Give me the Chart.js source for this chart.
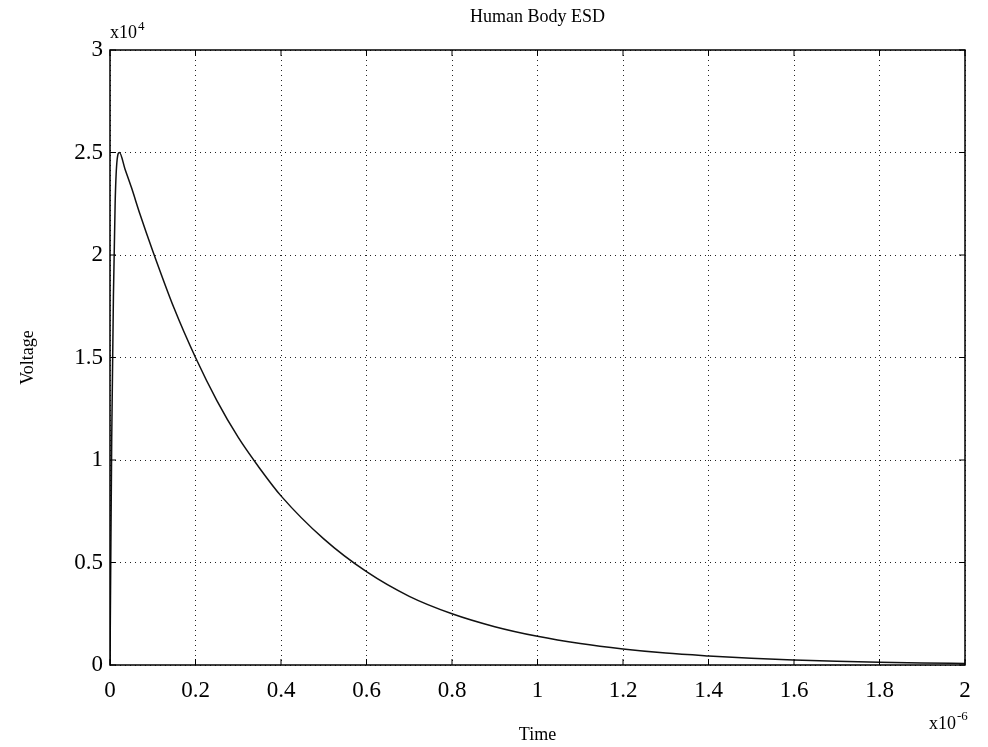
<!DOCTYPE html>
<html>
<head>
<meta charset="utf-8">
<title>Human Body ESD</title>
<script src="https://cdn.jsdelivr.net/npm/chart.js@4.4.1/dist/chart.umd.min.js"></script>
<style>
    html, body { margin: 0; padding: 0; background: #fff; }
    #esdChart { display: block; }
</style>
</head>
<body>
<canvas id="esdChart" width="988" height="747"></canvas>
<script>
// time in units of 1e-6 s, voltage in volts
const timeUs = [0, 0.004, 0.008, 0.012, 0.016, 0.022, 0.035, 0.05, 0.07, 0.1,
    0.15, 0.2, 0.25, 0.3, 0.35, 0.4, 0.5, 0.6, 0.7, 0.8,
    0.9, 1.0, 1.1, 1.2, 1.3, 1.4, 1.5, 1.6, 1.7, 1.8, 1.9, 2.0];
const voltage = [0, 11000, 18000, 22500, 24500, 25000, 24200, 23300, 22000, 20200,
    17400, 15000, 12900, 11100, 9600, 8250, 6150, 4550, 3350, 2500,
    1870, 1400, 1045, 780, 580, 440, 325, 245, 182, 136, 101, 76];

const xTicks = [0, 0.2, 0.4, 0.6, 0.8, 1, 1.2, 1.4, 1.6, 1.8, 2];
const yTicks = [0, 5000, 10000, 15000, 20000, 25000, 30000];

const serif = '"Liberation Serif", "DejaVu Serif", serif';

// MATLAB-like box, inward ticks and the loose text bits (title, exponents)
const matlabFrame = {
    id: 'matlabFrame',
    afterDraw(chart) {
        const { ctx, chartArea: a, scales } = chart;
        ctx.save();
        ctx.strokeStyle = '#000';
        ctx.lineWidth = 1.5;
        ctx.strokeRect(a.left, a.top, a.right - a.left, a.bottom - a.top);

        ctx.lineWidth = 1;
        ctx.beginPath();
        xTicks.forEach(v => {
            const px = scales.x.getPixelForValue(v);
            ctx.moveTo(px, a.bottom); ctx.lineTo(px, a.bottom - 6);
            ctx.moveTo(px, a.top); ctx.lineTo(px, a.top + 6);
        });
        yTicks.forEach(v => {
            const py = scales.y.getPixelForValue(v);
            ctx.moveTo(a.left, py); ctx.lineTo(a.left + 6, py);
            ctx.moveTo(a.right, py); ctx.lineTo(a.right - 6, py);
        });
        ctx.stroke();

        ctx.fillStyle = '#000';
        ctx.textAlign = 'center';
        ctx.textBaseline = 'middle';
        ctx.font = '18px ' + serif;
        ctx.fillText('Human Body ESD', (a.left + a.right) / 2, 17);

        ctx.textAlign = 'left';
        ctx.textBaseline = 'alphabetic';
        ctx.font = '18px ' + serif;
        ctx.fillText('x10', 110, 38);
        let w = ctx.measureText('x10').width;
        ctx.font = '13px ' + serif;
        ctx.fillText('4', 110 + w + 1, 30);

        ctx.font = '18px ' + serif;
        ctx.fillText('x10', 929, 729);
        w = ctx.measureText('x10').width;
        ctx.font = '13px ' + serif;
        ctx.fillText('-6', 929 + w + 1, 720);
        ctx.restore();
    }
};

const ctx = document.getElementById('esdChart').getContext('2d');

new Chart(ctx, {
    type: 'line',
    data: {
        datasets: [{
            data: timeUs.map((t, i) => ({ x: t, y: voltage[i] })),
            borderColor: '#111',
            borderWidth: 1.5,
            pointRadius: 0,
            fill: false,
            cubicInterpolationMode: 'monotone'
        }]
    },
    options: {
        responsive: false,
        animation: false,
        layout: {
            padding: { top: 50, right: 23, left: 0, bottom: 0 }
        },
        plugins: {
            legend: { display: false },
            tooltip: { enabled: false }
        },
        scales: {
            x: {
                type: 'linear',
                min: 0,
                max: 2,
                afterFit: scale => { scale.height = 82; },
                afterBuildTicks: scale => { scale.ticks = xTicks.map(v => ({ value: v })); },
                grid: {
                    color: '#222',
                    lineWidth: 1,
                    drawTicks: false
                },
                border: { display: false, dash: [1, 4] },
                ticks: {
                    color: '#000',
                    padding: 12,
                    font: { family: serif, size: 23 },
                    callback: value => String(Number(value.toFixed(1)))
                },
                title: {
                    display: true,
                    text: 'Time',
                    color: '#000',
                    font: { family: serif, size: 18 },
                    padding: { top: 0, bottom: 1 }
                }
            },
            y: {
                min: 0,
                max: 30000,
                afterFit: scale => { scale.width = 110; },
                afterBuildTicks: scale => { scale.ticks = yTicks.map(v => ({ value: v })); },
                grid: {
                    color: '#222',
                    lineWidth: 1,
                    drawTicks: false
                },
                border: { display: false, dash: [1, 4] },
                ticks: {
                    color: '#000',
                    padding: 7,
                    font: { family: serif, size: 23 },
                    callback: value => String(value / 10000)
                },
                title: {
                    display: true,
                    text: 'Voltage',
                    color: '#000',
                    font: { family: serif, size: 18 },
                    padding: { top: 17, bottom: 0 }
                }
            }
        }
    },
    plugins: [matlabFrame]
});
</script>
</body>
</html>
